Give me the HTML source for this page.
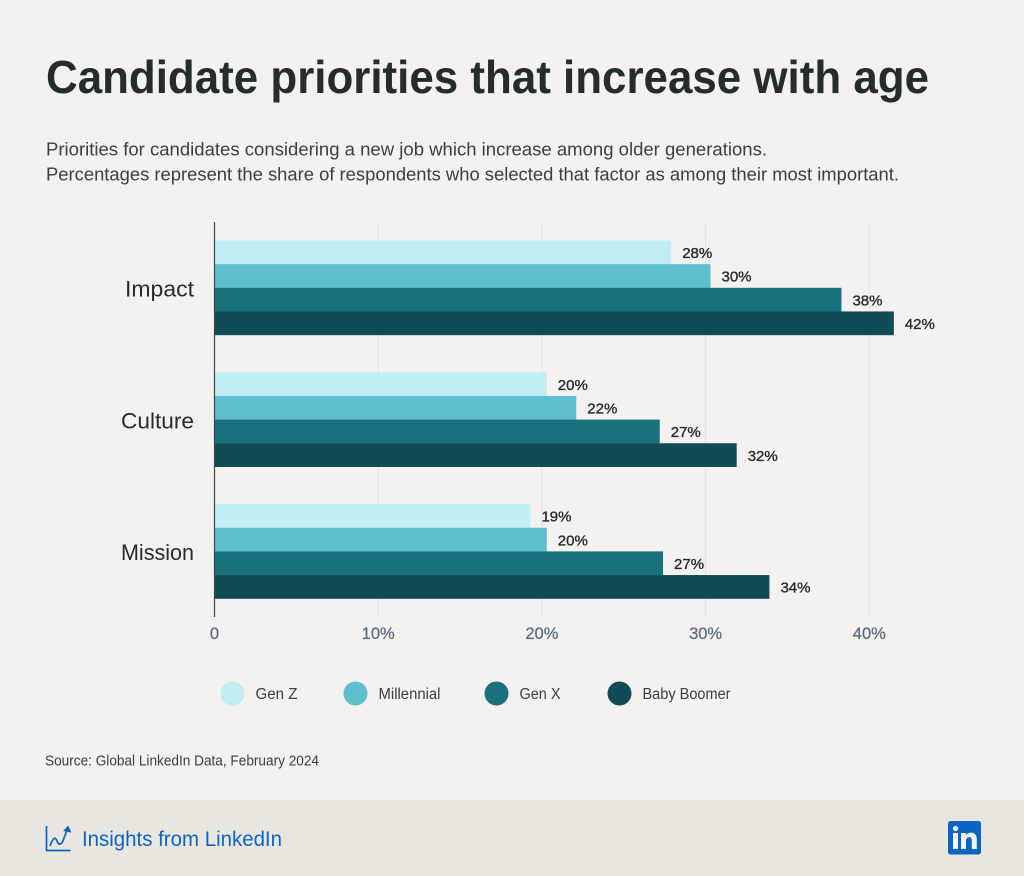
<!DOCTYPE html>
<html lang="en">
<head>
<meta charset="utf-8">
<title>Candidate priorities that increase with age</title>
<style>
html,body{margin:0;padding:0;background:#f3f2f0;}
svg{display:block;font-family:"Liberation Sans",sans-serif;}
</style>
</head>
<body>
<svg id="chart" width="1024" height="876" viewBox="0 0 1024 876" xmlns="http://www.w3.org/2000/svg">
  <rect x="0" y="0" width="1024" height="876" fill="#f3f2f0"/>
  <text x="46" y="93" font-size="46" font-weight="700" fill="#252c2c" textLength="883" lengthAdjust="spacingAndGlyphs">Candidate priorities that increase with age</text>
  <text x="46" y="155.500" font-size="18.5" fill="#3a3f3f" textLength="721" lengthAdjust="spacingAndGlyphs">Priorities for candidates considering a new job which increase among older generations.</text>
  <text x="46" y="180.500" font-size="18.5" fill="#3a3f3f" textLength="853" lengthAdjust="spacingAndGlyphs">Percentages represent the share of respondents who selected that factor as among their most important.</text>
  <g id="grid"></g>
  <g id="bars"></g>
  <g id="axis"></g>
  <g id="legend"></g>
  <text x="45" y="765.500" font-size="14.5" fill="#3a3f3f" textLength="274" lengthAdjust="spacingAndGlyphs">Source: Global LinkedIn Data, February 2024</text>
  <rect x="0" y="800" width="1024" height="76" fill="#e9e5df"/>
  <g fill="none" stroke="#0a66c2" stroke-width="1.7">
    <path d="M46.500 826 V850.500 H70.500"/>
    <path d="M50 846 C53 838 55 836 57 841 C59 846 62 845 64 838 L67.500 829"/>
    <path d="M64.800 830.500 L68 827 L70 831.500 Z" fill="#0a66c2"/>
  </g>
  <text x="82" y="846" font-size="21.5" fill="#0a66c2" textLength="200" lengthAdjust="spacingAndGlyphs">Insights from LinkedIn</text>
  <g>
    <rect x="948" y="821" width="33" height="33.5" rx="2.5" fill="#0a66c2"/>
    <circle cx="955.500" cy="828.500" r="2.6" fill="#f3f2f0"/>
    <rect x="953" y="833" width="5" height="16" fill="#f3f2f0"/>
    <path d="M961 833 H965.800 V835.300 C966.800 833.600 968.600 832.600 970.800 832.600 C975 832.600 976.800 835.200 976.800 839.600 V849 H971.800 V840.600 C971.800 838.400 971 837.100 969.200 837.100 C967.200 837.100 966 838.500 966 840.800 V849 H961 Z" fill="#f3f2f0"/>
  </g>
</svg>
<script>
const categories = ["Impact", "Culture", "Mission"];
const seriesNames = ["Gen Z", "Millennial", "Gen X", "Baby Boomer"];
const genZ = [27.9, 20.3, 19.3];
const millennial = [30.3, 22.1, 20.3];
const genX = [38.3, 27.2, 27.4];
const babyBoomer = [41.5, 31.9, 33.9];
const genZLabels = ["28%", "20%", "19%"];
const millennialLabels = ["30%", "22%", "20%"];
const genXLabels = ["38%", "27%", "27%"];
const babyBoomerLabels = ["42%", "32%", "34%"];
const tickValues = [0, 10, 20, 30, 40];
const tickLabels = ["0", "10%", "20%", "30%", "40%"];

const NS = "http://www.w3.org/2000/svg";
const colors = ["#c1eef4", "#5fbfcf", "#1a717e", "#114b53"];
const allValues = [genZ, millennial, genX, babyBoomer];
const allLabels = [genZLabels, millennialLabels, genXLabels, babyBoomerLabels];

function xScale(v) { return 214.5 + v * 16.37; }
function groupTop(i) { return 240.5 + i * 131.8; }
const barH = 23.65;

function mk(tag, attrs, parent, text) {
  const el = document.createElementNS(NS, tag);
  for (const k in attrs) el.setAttribute(k, attrs[k]);
  if (text !== undefined) el.textContent = text;
  parent.appendChild(el);
  return el;
}

const grid = document.getElementById("grid");
const bars = document.getElementById("bars");
const axis = document.getElementById("axis");
const legend = document.getElementById("legend");

tickValues.forEach(function (t, i) {
  if (t !== 0) {
    const line = mk("line", {x1: xScale(t), x2: xScale(t), y1: 222, y2: 617, stroke: "#dde3e8", "stroke-width": 1}, grid);
    
    
  }
  const label = mk("text", {x: xScale(t), y: 639, "text-anchor": "middle", "font-size": 16.5, fill: "#5b6b80", stroke: "#5b6b80", "stroke-width": 0.25}, axis, tickLabels[i]);
  
  
});

const categoryTextWidths = [69, 73, 73];
categories.forEach(function (c, i) {
  const catLabel = mk("text", {x: 194, y: groupTop(i) + 56, "text-anchor": "end", "font-size": 22.5, fill: "#252c2c", textLength: categoryTextWidths[i], lengthAdjust: "spacingAndGlyphs"}, axis, c);
  
  
  allValues.forEach(function (series, s) {
    const y = groupTop(i) + s * barH;
    const bar = mk("rect", {x: xScale(0), y: y, width: xScale(series[i]) - xScale(0), height: barH + 0.1, fill: colors[s]}, bars);
    
    
    const val = mk("text", {x: xScale(series[i]) + 11, y: y + 17.5, "font-size": 15, fill: "#252c2c", stroke: "#252c2c", "stroke-width": 0.35}, bars, allLabels[s][i]);
    
    
  });
});

const yAxis = mk("line", {x1: 214.5, x2: 214.5, y1: 222, y2: 617, stroke: "#3f4648", "stroke-width": 1.2}, axis);



const legendCircleX = [232.5, 355.5, 496.5, 619.5];
const legendTextWidths = [42, 62, 41, 88];
seriesNames.forEach(function (n, i) {
  const dot = mk("circle", {cx: legendCircleX[i], cy: 693.5, r: 12, fill: colors[i]}, legend);
  
  
  const txt = mk("text", {x: legendCircleX[i] + 23, y: 699, "font-size": 15.5, fill: "#3a3f3f", textLength: legendTextWidths[i], lengthAdjust: "spacingAndGlyphs"}, legend, n);
  
  
});
</script>
</body>
</html>
